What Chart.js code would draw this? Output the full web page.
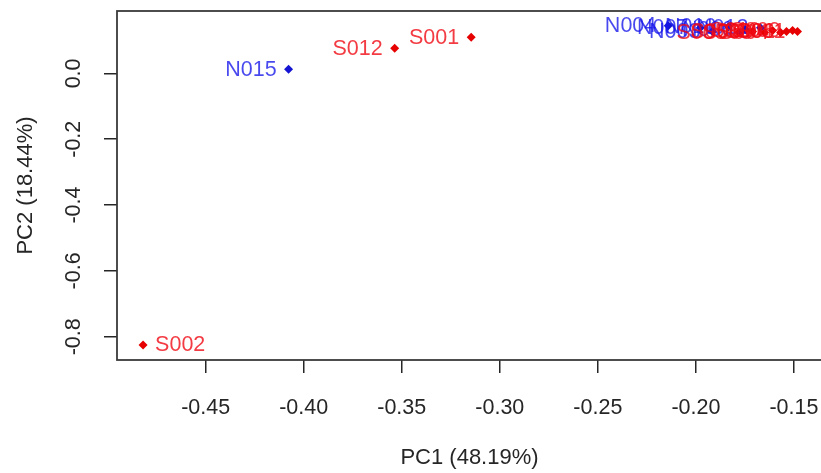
<!DOCTYPE html>
<html>
<head>
<meta charset="utf-8">
<script src="https://cdn.jsdelivr.net/npm/chart.js@4/dist/chart.umd.min.js"></script>
<style>
  html, body { margin: 0; padding: 0; background: #ffffff; overflow: hidden; }
  canvas { display: block; }
</style>
</head>
<body>
<canvas id="pca" width="830" height="473"></canvas>
<script>
// PCA scores of the samples (first two components)
const sampleNames = ['N015', 'N004', 'N007', 'N003', 'N010', 'N006', 'N012',
                     'S001', 'S002', 'S012', 'S005', 'S008', 'S003', 'S010',
                     'S004', 'S006', 'S009', 'S011'];
const pc1 = [-0.4077, -0.2141, -0.1977, -0.1916, -0.1834, -0.1747, -0.1671,
             -0.3146, -0.4819, -0.3536, -0.1782, -0.1711, -0.1650, -0.1609,
             -0.1568, -0.1538, -0.1507, -0.1482];
const pc2 = [0.0125, 0.145, 0.139, 0.127, 0.142, 0.133, 0.139,
             0.1097, -0.825, 0.0762, 0.124, 0.127, 0.124, 0.130,
             0.124, 0.127, 0.130, 0.127];
const groups = ['N', 'N', 'N', 'N', 'N', 'N', 'N',
                'S', 'S', 'S', 'S', 'S', 'S', 'S',
                'S', 'S', 'S', 'S'];

const xTicks = [-0.45, -0.40, -0.35, -0.30, -0.25, -0.20, -0.15];
const yTicks = [-0.8, -0.6, -0.4, -0.2, 0.0];
const xTitle = 'PC1 (48.19%)';
const yTitle = 'PC2 (18.44%)';

const FONT = '"Liberation Sans", Arial, sans-serif';
const pointColor = { N: '#1414d2', S: '#e60000' };
const labelColor = { N: 'rgba(20, 20, 235, 0.78)', S: 'rgba(240, 10, 20, 0.80)' };
const axisInk = '#262626';

// sample names next to each point: left of the point, or right when there is no room
const sampleLabels = {
  id: 'sampleLabels',
  afterDatasetsDraw(chart) {
    const ctx = chart.ctx;
    const meta = chart.getDatasetMeta(0);
    const gap = 12;
    ctx.save();
    ctx.font = '21.5px ' + FONT;
    ctx.textBaseline = 'middle';
    meta.data.forEach((pt, i) => {
      const name = sampleNames[i];
      const w = ctx.measureText(name).width;
      const toRight = pt.x - gap - w < chart.chartArea.left;
      ctx.textAlign = toRight ? 'left' : 'right';
      ctx.fillStyle = labelColor[groups[i]];
      ctx.fillText(name, toRight ? pt.x + gap : pt.x - gap, pt.y + 0.5);
    });
    ctx.restore();
  }
};

// frame around the plotting region
const plotFrame = {
  id: 'plotFrame',
  afterDraw(chart) {
    const { left, top, right, bottom } = chart.chartArea;
    const ctx = chart.ctx;
    ctx.save();
    ctx.strokeStyle = '#3a3a3a';
    ctx.lineWidth = 1.8;
    ctx.strokeRect(left, top, right - left, bottom - top);
    ctx.restore();
  }
};

// fixed axis sizes, no extra margin for overhanging tick labels
function fixSize(prop, size) {
  return s => {
    s[prop] = size;
    s.paddingTop = 0; s.paddingBottom = 0; s.paddingLeft = 0; s.paddingRight = 0;
  };
}

const points = pc1.map((x, i) => ({ x: x, y: pc2[i] }));

new Chart(document.getElementById('pca'), {
  type: 'scatter',
  data: {
    datasets: [{
      data: points,
      pointStyle: 'rectRot',
      pointRadius: 4.5,
      pointHoverRadius: 4.5,
      borderWidth: 0,
      backgroundColor: groups.map(g => pointColor[g]),
      borderColor: groups.map(g => pointColor[g])
    }]
  },
  options: {
    responsive: false,
    animation: false,
    events: [],
    layout: { padding: { top: 11, right: 8, left: 0, bottom: 0 } },
    plugins: { legend: { display: false }, tooltip: { enabled: false } },
    scales: {
      x: {
        type: 'linear',
        min: -0.4952,
        max: -0.1357,
        afterBuildTicks: s => { s.ticks = xTicks.map(v => ({ value: v })); },
        afterFit: fixSize('height', 113),
        grid: { display: true, drawOnChartArea: false, drawTicks: true, tickLength: 13, color: axisInk, lineWidth: 1.5 },
        border: { display: false },
        ticks: {
          autoSkip: false, minRotation: 0, maxRotation: 0, padding: 22,
          color: axisInk, font: { family: FONT, size: 21.5 },
          callback: v => v.toFixed(2)
        },
        title: {
          display: true, text: xTitle, color: axisInk,
          font: { family: FONT, size: 22 }, padding: { top: 0, bottom: 2 }
        }
      },
      y: {
        type: 'linear',
        min: -0.8705,
        max: 0.1895,
        afterBuildTicks: s => { s.ticks = yTicks.map(v => ({ value: v })); },
        afterFit: fixSize('width', 117),
        grid: { display: true, drawOnChartArea: false, drawTicks: true, tickLength: 13, color: axisInk, lineWidth: 1.5 },
        border: { display: false },
        ticks: {
          autoSkip: false, minRotation: 90, maxRotation: 90, padding: 11,
          crossAlign: 'center',
          color: axisInk, font: { family: FONT, size: 21.5 },
          callback: v => v.toFixed(1)
        },
        title: {
          display: true, text: yTitle, color: axisInk,
          font: { family: FONT, size: 22 }, padding: { top: 13, bottom: 0 }
        }
      }
    }
  },
  plugins: [sampleLabels, plotFrame]
});
</script>
</body>
</html>
